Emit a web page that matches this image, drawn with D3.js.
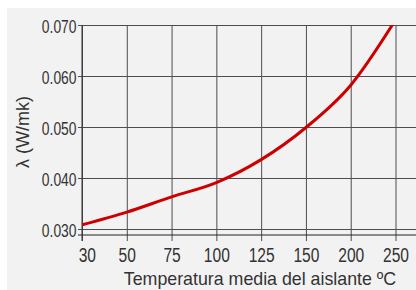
<!DOCTYPE html>
<html>
<head>
<meta charset="utf-8">
<script src="https://cdn.jsdelivr.net/npm/d3@7"></script>
<style>
  html, body { margin: 0; padding: 0; background: #fff; }
  svg { display: block; }
  .tick text { font-family: "Liberation Sans", Arial, sans-serif; fill: #333; }
</style>
</head>
<body>
<svg id="chart" width="416" height="290"></svg>
<script>
// temperature categories (equally spaced on the axis)
const temps = [30, 50, 75, 100, 125, 150, 200, 250]
// thermal conductivity, W/mK
const lambda = [0.0308, 0.0333, 0.0363, 0.0391, 0.0436, 0.0499, 0.0582, 0.0710]
const yTicks = [0.030, 0.040, 0.050, 0.060, 0.070]

const W = 416, H = 290
const mLeft = 82, mTop = 25, mBottom = 235, mRight = 416
const gridColor = '#4d4d4d'

const svg = d3.select('#chart')

svg.append('rect')
  .attr('x', 7).attr('y', 8)
  .attr('width', W - 7).attr('height', H - 8)
  .attr('fill', '#f2f2f2')

const x = d3.scalePoint().domain(temps).range([mLeft, 395.5])
const y = d3.scaleLinear().domain([0.030, 0.070]).range([229, mTop])

// horizontal grid + y labels
const gy = svg.append('g')
  .attr('transform', `translate(${mLeft - 4},0)`)
  .call(d3.axisLeft(y).tickValues(yTicks).tickFormat(d3.format('.3f'))
    .tickSize(-(mRight - mLeft + 4)).tickPadding(2))
gy.select('.domain').remove()
gy.selectAll('.tick line').attr('stroke', gridColor)
// no condensed font installed: squeeze labels horizontally
gy.selectAll('.tick text').attr('font-size', 19).attr('dy', '0.42em')
  .attr('transform', 'scale(0.73,1)')

// vertical grid + x labels
const gx = svg.append('g')
  .attr('transform', `translate(0,${mBottom + 6})`)
  .call(d3.axisBottom(x).tickSize(-(mBottom + 6 - mTop)).tickPadding(7))
gx.select('.domain').remove()
gx.selectAll('.tick line').attr('stroke', gridColor)
gx.selectAll('.tick text').attr('font-size', 19.5)
  .attr('dx', (d, i) => i === 0 ? 6 : 0)
  .attr('transform', 'scale(0.8,1)')

// axis frame lines
svg.append('line')
  .attr('x1', mLeft - 4).attr('x2', mRight)
  .attr('y1', mBottom).attr('y2', mBottom)
  .attr('stroke', '#222')
svg.append('line')
  .attr('x1', mLeft).attr('x2', mLeft)
  .attr('y1', mTop).attr('y2', mBottom + 6)
  .attr('stroke', '#333')

// curve, clipped to the plot
svg.append('clipPath').attr('id', 'plot-clip')
  .append('rect')
  .attr('x', mLeft).attr('y', mTop)
  .attr('width', mRight - mLeft).attr('height', mBottom - mTop)

const line = d3.line()
  .x((d, i) => x(temps[i]))
  .y(d => y(d))
  .curve(d3.curveMonotoneX)

svg.append('path')
  .attr('clip-path', 'url(#plot-clip)')
  .attr('d', line(lambda))
  .attr('fill', 'none')
  .attr('stroke', '#cc0000')
  .attr('stroke-width', 3)

// axis titles
svg.append('text')
  .attr('x', 260).attr('y', 285)
  .attr('text-anchor', 'middle')
  .attr('font-family', '"Liberation Sans", Arial, sans-serif')
  .attr('font-size', 17.8)
  .attr('fill', '#333')
  .text('Temperatura media del aislante ºC')

svg.append('text')
  .attr('transform', 'translate(29,132) rotate(-90)')
  .attr('text-anchor', 'middle')
  .attr('font-family', '"Liberation Sans", Arial, sans-serif')
  .attr('font-size', 18)
  .attr('fill', '#333')
  .text('λ (W/mk)')
</script>
</body>
</html>
